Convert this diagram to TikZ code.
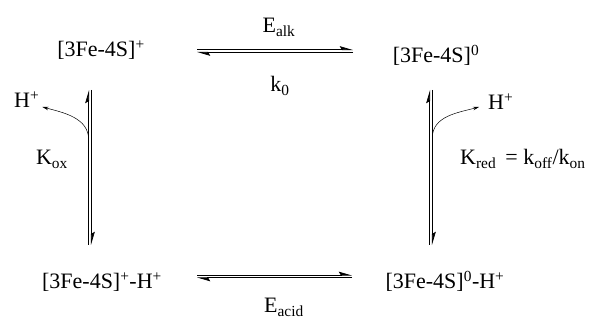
\documentclass[tikz,border=0pt]{standalone}
\usepackage{fontspec}
\setmainfont{Liberation Serif}
\usetikzlibrary{arrows.meta}

\begin{document}
\begin{tikzpicture}[x=1pt, y=1pt, font=\fontsize{22}{26}\selectfont,
    hp/.style={line width=0.7pt, -{Stealth[harpoon, length=12pt, width=7pt, inset=2pt]}},
    curv/.style={line width=0.5pt, -{Stealth[length=6pt, width=3.5pt]}},
    lbl/.style={anchor=base, inner sep=1pt}]
  \useasboundingbox (0,0) rectangle (600,323);
  % dort durum
  \node[lbl] (ox)   at (101,266) {[3Fe-4S]\textsuperscript{+}};
  \node[lbl] (red)  at (436,260) {[3Fe-4S]\textsuperscript{0}};
  \node[lbl] (oxh)  at (102,34)  {[3Fe-4S]\textsuperscript{+}-H\textsuperscript{+}};
  \node[lbl] (redh) at (445,34)  {[3Fe-4S]\textsuperscript{0}-H\textsuperscript{+}};
  % sabitler
  \node[lbl] (ealk)  at (279,290) {E\textsubscript{alk}};
  \node[lbl] (kzero) at (280,231) {k\textsubscript{0}};
  \node[lbl] (eacid) at (284,10)  {E\textsubscript{acid}};
  \node[lbl] (kox)   at (52,158)  {K\textsubscript{ox}};
  \node[lbl, anchor=base west] (kred) at (459,158)
    {K\textsubscript{red}\, = k\textsubscript{off}/k\textsubscript{on}};
  % protonlar
  \node[lbl, anchor=base west] (hl) at (13,215)  {H\textsuperscript{+}};
  \node[lbl, anchor=base west] (hr) at (487,213) {H\textsuperscript{+}};
  % denge oklari: uc noktalari
  \coordinate (tw) at (197,272);   \coordinate (te) at (353,272);
  \coordinate (bw) at (197,46.5);  \coordinate (be) at (352,46.5);
  \coordinate (lt) at (90,233);    \coordinate (lb) at (90,78);
  \coordinate (rt) at (431,233);   \coordinate (rb) at (431,78);
  % yatay
  \draw[hp] ([yshift=1.3pt]tw) -- ([yshift=1.3pt]te);
  \draw[hp] ([yshift=-1.3pt]te) -- ([yshift=-1.3pt]tw);
  \draw[hp] ([yshift=1.3pt]bw) -- ([yshift=1.3pt]be);
  \draw[hp] ([yshift=-1.3pt]be) -- ([yshift=-1.3pt]bw);
  % dikey
  \draw[hp] ([xshift=-1.3pt]lb) -- ([xshift=-1.3pt]lt);
  \draw[hp] ([xshift=1.3pt]lt) -- ([xshift=1.3pt]lb);
  \draw[hp] ([xshift=-1.3pt]rb) -- ([xshift=-1.3pt]rt);
  \draw[hp] ([xshift=1.3pt]rt) -- ([xshift=1.3pt]rb);
  % proton cikisi
  \coordinate (lk) at (88.7,183);
  \coordinate (rk) at (432.3,185);
  \draw[curv] (lk) to[out=90, in=-15] ([shift={(2pt,1pt)}]hl.base east);
  \draw[curv] (rk) to[out=90, in=195] ([shift={(-8pt,3pt)}]hr.base west);
\end{tikzpicture}
\end{document}
